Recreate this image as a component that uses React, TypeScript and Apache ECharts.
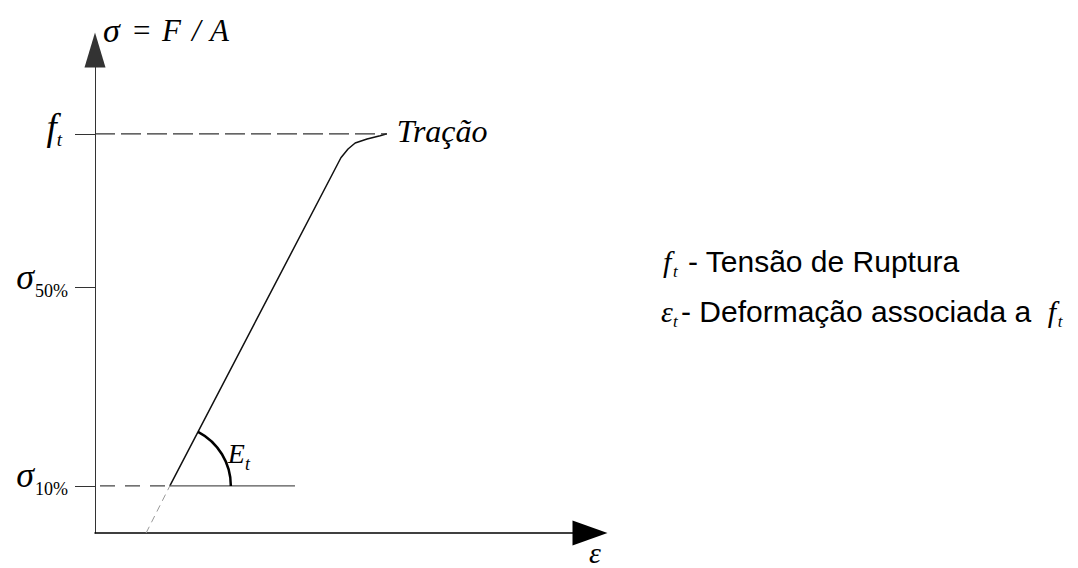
import React, { useEffect, useRef } from "react";
import * as echarts from "echarts";

// ---- data (schematic stress-strain diagram) ----
const X_MAX = 125; // strain axis extent
const Y_MAX = 121; // stress axis extent (f_t = 100)
const FT = 100; // f_t
const SIGMA50 = 61.5; // sigma 50%
const SIGMA10 = 11.8; // sigma 10%
const curveX = [18.9, 62.1, 63.9, 65.7, 68.7, 72.0, 73.7];
const curveY = [11.8, 94.0, 96.2, 97.7, 98.7, 99.5, 100];
const extX = [12.9, 18.9];
const extY = [0, 11.8];
const SIGMA10_END = 50.5;
const yTickValues = [SIGMA10, SIGMA50, FT];
const yTickLabels = ["{s|σ}{sub|10%}", "{s|σ}{sub|50%}", "{f|f}{fsub|t}"];

const SERIF = "Liberation Serif";
const SANS = "Liberation Sans";

export default function App() {
  const ref = useRef<HTMLDivElement>(null);

  useEffect(() => {
    if (!ref.current) return;
    const chart = echarts.init(ref.current, null, { renderer: "svg" });
    const pair = (xs: number[], ys: number[]) => xs.map((x, i) => [x, ys[i]]);
    const curveEndX = curveX[curveX.length - 1];

    const option: any = {
      animation: false,
      backgroundColor: "#ffffff",
      textStyle: { fontFamily: SERIF },
      grid: { left: 95, top: 50, right: 488, bottom: 35, containLabel: false, outerBoundsMode: "none" },
      xAxis: {
        type: "value",
        min: 0,
        max: X_MAX,
        axisLine: {
          show: true,
          symbol: ["none", "triangle"],
          symbolSize: [25, 35],
          lineStyle: { color: "#000", width: 1.5 },
        },
        axisTick: { show: false },
        axisLabel: { show: false },
        splitLine: { show: false },
        name: "ε",
        nameLocation: "end",
        nameGap: 5,
        nameTextStyle: {
          fontFamily: SERIF,
          fontStyle: "italic",
          fontSize: 30,
          color: "#000",
          align: "center",
          verticalAlign: "top",
          padding: [4, 0, 0, 0],
        },
      },
      yAxis: {
        type: "value",
        min: 0,
        max: Y_MAX,
        axisLine: {
          show: true,
          onZero: true,
          symbol: ["none", "triangle"],
          symbolSize: [21, 35],
          lineStyle: { color: "#333", width: 1 },
        },
        axisTick: {
          show: true,
          customValues: yTickValues,
          length: 20,
          lineStyle: { color: "#333", width: 1 },
        },
        axisLabel: {
          show: true,
          customValues: yTickValues,
          margin: 27,
          formatter: (v: number) => {
            const i = yTickValues.findIndex((t) => Math.abs(t - v) < 1e-6);
            return i >= 0 ? yTickLabels[i] : "";
          },
          rich: {
            s: { fontFamily: SERIF, fontStyle: "italic", fontSize: 36, color: "#000", padding: [0, 0, 21, 0] },
            sub: { fontFamily: SERIF, fontSize: 18, color: "#000", padding: [6, 0, 0, 1] },
            f: { fontFamily: SERIF, fontStyle: "italic", fontSize: 37, color: "#000", padding: [0, 0, 13, 0] },
            fsub: { fontFamily: SERIF, fontStyle: "italic", fontSize: 19, color: "#000", padding: [12, 6, 0, 0] },
          },
        },
        splitLine: { show: false },
        name: "{s|σ}{o|=}{v|F}{o2|/}{a|A}",
        nameLocation: "end",
        nameGap: 20,
        nameTextStyle: {
          align: "left",
          verticalAlign: "middle",
          padding: [0, 0, 0, 8],
          rich: {
            s: { fontFamily: SERIF, fontStyle: "italic", fontSize: 34, color: "#000", width: 30 },
            o: { fontFamily: SERIF, fontSize: 31, color: "#000", width: 29 },
            v: { fontFamily: SERIF, fontStyle: "italic", fontSize: 31, color: "#000", width: 30 },
            o2: { fontFamily: SERIF, fontStyle: "italic", fontSize: 31, color: "#000", width: 18 },
            a: { fontFamily: SERIF, fontStyle: "italic", fontSize: 31, color: "#000" },
          },
        },
      },
      series: [
        {
          name: "Tração",
          type: "line",
          data: pair(curveX, curveY),
          symbol: "none",
          clip: false,
          lineStyle: { color: "#111", width: 1.5 },
          endLabel: {
            show: true,
            formatter: "Tração",
            fontFamily: SERIF,
            fontStyle: "italic",
            fontSize: 32,
            color: "#000",
            distance: 10,
            offset: [0, -3],
          },
        },
        {
          name: "extensão",
          type: "line",
          data: pair(extX, extY),
          symbol: "none",
          clip: false,
          lineStyle: { color: "#999", width: 1, type: [7, 5] },
        },
        {
          name: "f_t",
          type: "line",
          data: [[0, FT], [curveEndX, FT]],
          symbol: "none",
          clip: false,
          lineStyle: { color: "#333", width: 1.2, type: [20, 6] },
        },
        {
          name: "σ10% tracejado",
          type: "line",
          data: [[0, SIGMA10], [curveX[0], SIGMA10]],
          symbol: "none",
          clip: false,
          lineStyle: { color: "#444", width: 1.2, type: [15, 10], dashOffset: 20 },
        },
        {
          name: "σ10%",
          type: "line",
          data: [[curveX[0], SIGMA10], [SIGMA10_END, SIGMA10]],
          symbol: "none",
          clip: false,
          lineStyle: { color: "#555", width: 1.2 },
        },
      ],
    };
    chart.setOption(option);

    // Angle arc E_t, anchored on the data points through the axes
    const c = chart.convertToPixel({ xAxisIndex: 0, yAxisIndex: 0 }, [curveX[0], SIGMA10]) as number[];
    const k = chart.convertToPixel({ xAxisIndex: 0, yAxisIndex: 0 }, [curveX[1], curveY[1]]) as number[];
    const ang = Math.atan2(k[1] - c[1], k[0] - c[0]);

    chart.setOption({
      graphic: [
        {
          type: "arc",
          shape: { cx: c[0], cy: c[1], r: 61, startAngle: ang, endAngle: 0, clockwise: true },
          style: { stroke: "#000", lineWidth: 2.5, fill: "none" },
          z: 10,
        },
        {
          type: "text",
          x: c[0] + 58,
          y: c[1] - 29.5,
          style: {
            text: "{E|E}{t|t}",
            verticalAlign: "middle",
            align: "left",
            rich: {
              E: { fontFamily: SERIF, fontStyle: "italic", fontSize: 28, fill: "#000", padding: [0, 0, 6, 0] },
              t: { fontFamily: SERIF, fontStyle: "italic", fontSize: 18, fill: "#000", padding: [15, 0, 0, 0] },
            },
          },
        },
        {
          type: "text",
          x: 663,
          y: 261,
          style: {
            text: "{f|f}{t|t}{tx|- Tensão de Ruptura}",
            verticalAlign: "middle",
            align: "left",
            rich: {
              f: { fontFamily: SERIF, fontStyle: "italic", fontSize: 30, fill: "#000", width: 10 },
              t: { fontFamily: SERIF, fontStyle: "italic", fontSize: 17, fill: "#000", width: 6, padding: [20, 0, 0, 0] },
              tx: { fontFamily: SANS, fontSize: 30, fill: "#000", padding: [0, 0, 0, 9] },
            },
          },
        },
        {
          type: "text",
          x: 661,
          y: 311,
          style: {
            text: "{e|ε}{t|t}{tx|- Deformação associada a  }{f|f}{t|t}",
            verticalAlign: "middle",
            align: "left",
            rich: {
              e: { fontFamily: SERIF, fontStyle: "italic", fontSize: 30, fill: "#000", width: 12 },
              f: { fontFamily: SERIF, fontStyle: "italic", fontSize: 30, fill: "#000", width: 10 },
              t: { fontFamily: SERIF, fontStyle: "italic", fontSize: 17, fill: "#000", width: 8, padding: [20, 0, 0, 0] },
              tx: { fontFamily: SANS, fontSize: 30, fill: "#000" },
            },
          },
        },
      ],
    });

    return () => chart.dispose();
  }, []);

  return (
    <div
      ref={ref}
      style={{ position: "absolute", left: 0, top: 0, width: 1078, height: 568, background: "#fff" }}
    />
  );
}
